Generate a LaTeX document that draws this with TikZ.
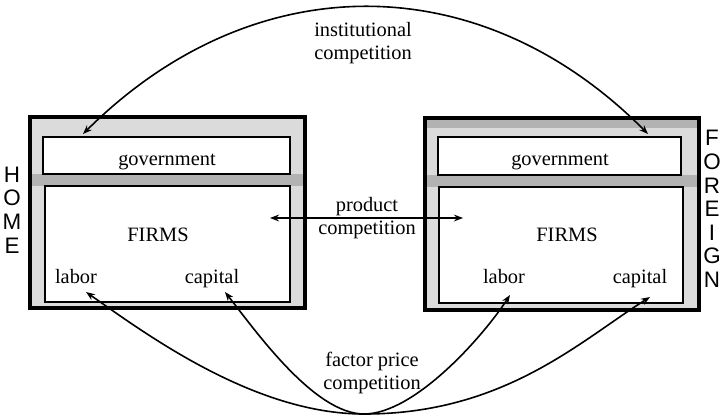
\documentclass[tikz,border=0pt]{standalone}
\usepackage{fontspec}
\setmainfont{Liberation Serif}
\newfontfamily\sidefont{Liberation Sans}
\usetikzlibrary{arrows.meta}
\begin{document}
\begin{tikzpicture}[x=0.5pt,y=-0.5pt,
		frame/.style={line width=1.6pt,fill=gray!28},
		band/.style={fill=gray!60},
		inbox/.style={draw,fill=white,line width=0.7pt},
		lbl/.style={font=\fontsize{10.2}{11.5}\selectfont,anchor=base},
		twoline/.style={font=\fontsize{10.2}{11.5}\selectfont,align=center},
		side/.style={font=\sidefont\fontsize{11.2}{11.8}\selectfont,align=center,inner sep=0pt},
		dbl/.style={line width=0.8pt,{Stealth[length=4.5pt,width=3.4pt]}-{Stealth[length=4.5pt,width=3.4pt]}}]
	\useasboundingbox (0,0) rectangle (722,417);
	% home
	\filldraw[frame] (30,117) rectangle (305,308);
	\fill[band] (32,174) rectangle (303,186);
	\draw[inbox] (43,137) rectangle (290,174);
	\draw[inbox] (45,186) rectangle (290,302);
	\node[lbl] (govL) at (167,165) {government};
	\node[lbl] (firmsL) at (158,241) {FIRMS};
	\node[lbl] (laborL) at (76,283) {labor};
	\node[lbl] (capitalL) at (212,283) {capital};
	\node[side] (home) at (12,210) {H\\O\\M\\E};
	% foreign
	\filldraw[frame] (425,118) rectangle (699,310);
	\fill[band] (427,120) rectangle (697,128);
	\fill[band] (427,175) rectangle (697,187);
	\draw[inbox] (438,137) rectangle (681,175);
	\draw[inbox] (439,187) rectangle (683,303);
	\node[lbl] (govR) at (560,165) {government};
	\node[lbl] (firmsR) at (567,241) {FIRMS};
	\node[lbl] (laborR) at (504,283) {labor};
	\node[lbl] (capitalR) at (640,283) {capital};
	\node[side] (foreign) at (712,209) {F\\O\\R\\E\\I\\G\\N};
	% competition labels
	\node[twoline] (inst) at (363,43) {institutional\\competition};
	\node[twoline] (prod) at (367,218) {product\\competition};
	\node[twoline] (factor) at (372,373) {factor price\\competition};
	% arrow ends
	\coordinate (instL) at (83,134);
	\coordinate (instR) at (648,134);
	\coordinate (prodL) at (270,218);
	\coordinate (prodR) at (463,218);
	\coordinate (tipLL) at (86,292);
	\coordinate (tipLC) at (225,292);
	\coordinate (tipRL) at (510,295);
	\coordinate (tipRC) at (650,297);
	\coordinate (bottom) at (364,414);
	\draw[dbl] (instL) .. controls (253,-35) and (480,-35) .. (instR);
	\draw[dbl] (prodL) -- (prodR);
	\draw[dbl] (tipLL) .. controls (146,334) and (254,414) .. (bottom) .. controls (504,414) and (580,341) .. (tipRC);
	\draw[dbl] (tipLC) .. controls (255,330) and (314,414) .. (bottom) .. controls (414,414) and (482,338) .. (tipRL);
\end{tikzpicture}
\end{document}
